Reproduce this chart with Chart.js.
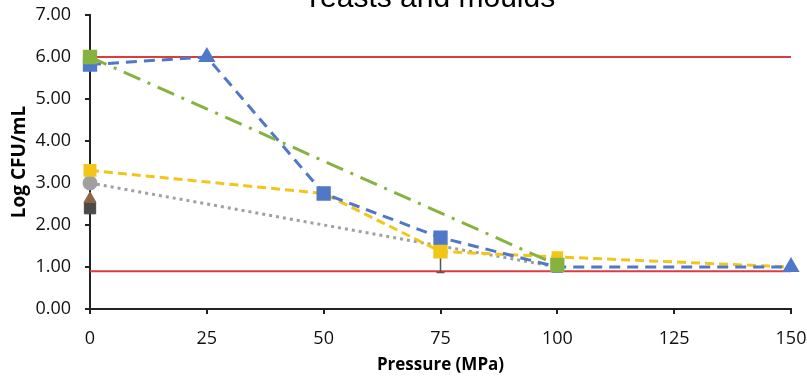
<!DOCTYPE html>
<html>
<head>
<meta charset="utf-8">
<script src="https://cdn.jsdelivr.net/npm/chart.js@4"></script>
<style>
  html, body { margin: 0; padding: 0; background: #fff; overflow: hidden; }
  #wrap { width: 807px; height: 376px; position: relative; }
</style>
</head>
<body>
<div id="wrap"><canvas id="chart"></canvas></div>
<script>
const titleText = "Yeasts and moulds";
const xTicks = [0, 25, 50, 75, 100, 125, 150];
const yTicks = [0, 1, 2, 3, 4, 5, 6, 7];

const blueX = [0, 25, 50, 75, 100, 150];
const blueY = [5.82, 6.0, 2.75, 1.7, 1.0, 1.0];
const greenX = [0, 100];
const greenY = [6.0, 1.05];
const yellowX = [0, 50, 75, 100, 150];
const yellowY = [3.3, 2.75, 1.37, 1.24, 1.0];
const greyX = [0, 75, 100];
const greyY = [3.0, 1.5, 1.0];
const brownX = [0];
const brownY = [2.62];
const darkX = [0];
const darkY = [2.4];
const errX = [75, 75];
const errY = [1.37, 0.87];
const upperLimit = 6.0;
const lowerLimit = 0.9;

const pts = (xs, ys) => xs.map((x, i) => ({x: x, y: ys[i]}));

const ctx = document.getElementById('chart');

const titlePlugin = {
  id: 'topTitle',
  afterDraw(chart) {
    const c = chart.ctx;
    c.save();
    c.font = '30px "Liberation Sans", Arial, sans-serif';
    c.fillStyle = '#000';
    c.textAlign = 'center';
    c.textBaseline = 'alphabetic';
    c.fillText(titleText, 429, 7);
    c.restore();
  }
};

new Chart(ctx, {
  type: "scatter",
  data: {
    datasets: [
      {
        data: pts(greenX, greenY),
        showLine: true,
        borderColor: "#86b340",
        backgroundColor: "#86b340",
        borderWidth: 3,
        borderDash: [18, 8, 3, 8],
        pointStyle: "rect",
        pointRadius: 8,
        order: 1
      },
      {
        data: pts(blueX, blueY),
        showLine: true,
        borderColor: "#4f78c8",
        backgroundColor: "#4f78c8",
        borderWidth: 3,
        borderDash: [11, 7],
        pointStyle: ["rect", "triangle", "rect", "rect", "rect", "triangle"],
        pointRadius: [8, 7, 8, 8, 6, 7],
        order: 2
      },
      {
        data: pts(yellowX, yellowY),
        showLine: true,
        borderColor: "#f2c619",
        backgroundColor: "#f2c619",
        borderWidth: 3,
        borderDash: [9, 5],
        pointStyle: "rect",
        pointRadius: [7, 6, 8, 6, 0],
        order: 3
      },
      {
        data: pts(errX, errY),
        showLine: true,
        borderColor: "#555",
        backgroundColor: "#555",
        borderWidth: 1.5,
        pointStyle: "line",
        pointRadius: [0, 4],
        order: 4
      },
      {
        data: pts(greyX, greyY),
        showLine: true,
        borderColor: "#a0a0a0",
        backgroundColor: "#a0a0a0",
        borderWidth: 3,
        borderDash: [3, 4],
        pointStyle: "circle",
        pointRadius: [6, 0, 0],
        order: 5
      },
      {
        data: pts(brownX, brownY),
        borderColor: "#8a6548",
        backgroundColor: "#8a6548",
        pointStyle: "triangle",
        pointRadius: 7,
        order: 6
      },
      {
        data: pts(darkX, darkY),
        borderColor: "#4a4a4a",
        backgroundColor: "#4a4a4a",
        pointStyle: "rect",
        pointRadius: 8,
        order: 7
      },
      {
        data: [{x: 0, y: upperLimit}, {x: 150, y: upperLimit}],
        showLine: true,
        borderColor: "#dd3c3c",
        borderWidth: 2,
        pointRadius: 0,
        order: 8
      },
      {
        data: [{x: 0, y: lowerLimit}, {x: 150, y: lowerLimit}],
        showLine: true,
        borderColor: "#dd3c3c",
        borderWidth: 2,
        pointRadius: 0,
        order: 9
      }
    ]
  },
  options: {
    responsive: true,
    maintainAspectRatio: false,
    animation: false,
    clip: false,
    layout: {padding: {left: 0, right: 16, top: 15, bottom: 0}},
    plugins: {
      legend: {display: false},
      tooltip: {enabled: false},
      title: {display: false}
    },
    scales: {
      x: {
        type: "linear",
        min: 0,
        max: 150,
        afterBuildTicks: (s) => { s.ticks = xTicks.map(v => ({value: v})); },
        afterFit: (s) => { s.height = 67; s.paddingLeft = 0; s.paddingRight = 0; },
        border: {color: "#222", width: 2},
        grid: {display: true, drawOnChartArea: false, tickLength: 5, color: "#222", lineWidth: 2},
        ticks: {
          color: "#111",
          padding: 14,
          font: {family: "'Open Sans'", size: 18}
        },
        title: {
          display: true,
          text: "Pressure (MPa)",
          color: "#000",
          padding: {top: 0, bottom: 1},
          font: {family: "'Open Sans'", size: 17, weight: "bold"}
        }
      },
      y: {
        min: 0,
        max: 7,
        afterBuildTicks: (s) => { s.ticks = yTicks.map(v => ({value: v})); },
        afterFit: (s) => { s.width = 90; s.paddingTop = 0; s.paddingBottom = 0; },
        border: {color: "#222", width: 2},
        grid: {display: true, drawOnChartArea: false, tickLength: 5, color: "#222", lineWidth: 2},
        ticks: {
          color: "#111",
          padding: 14,
          font: {family: "'Open Sans'", size: 18},
          callback: (v) => Number(v).toFixed(2)
        },
        title: {
          display: true,
          text: "Log CFU/mL",
          color: "#000",
          padding: {top: 8, bottom: 0},
          font: {family: "'Open Sans'", size: 19, weight: "bold"}
        }
      }
    }
  },
  plugins: [titlePlugin]
});
</script>
</body>
</html>
